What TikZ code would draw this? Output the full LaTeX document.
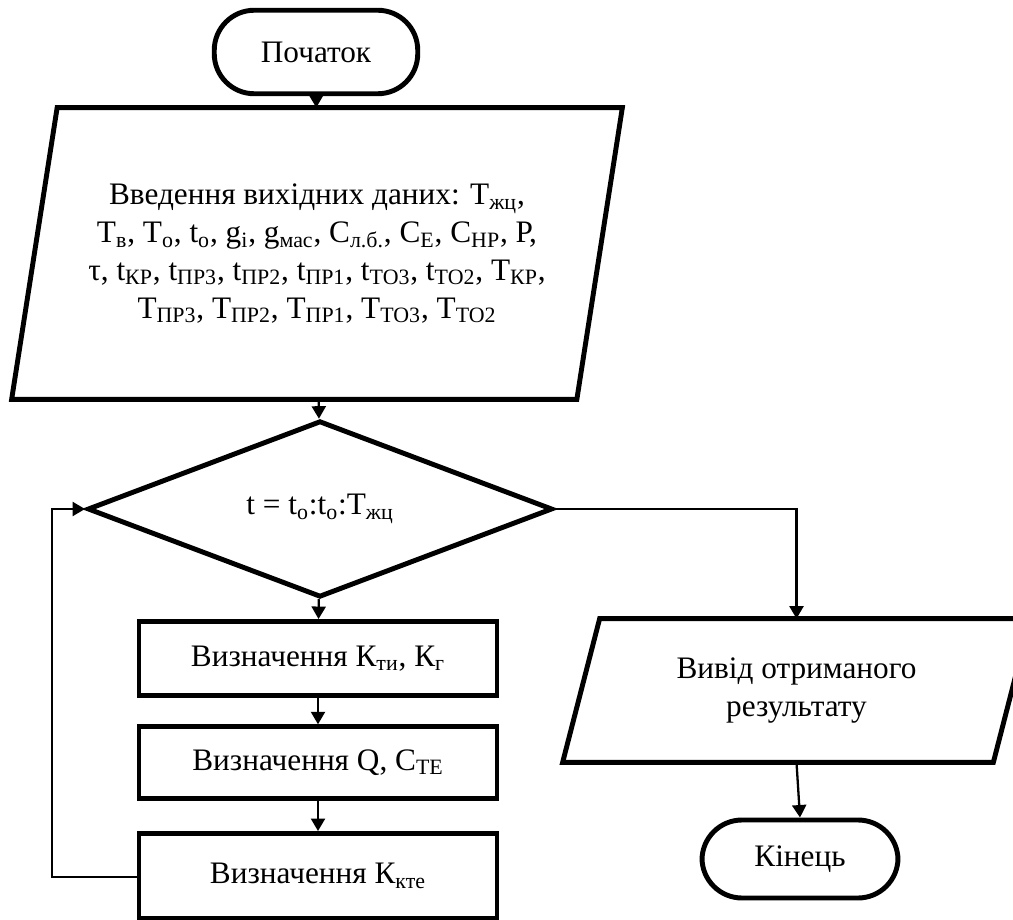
\documentclass[tikz,border=0pt]{standalone}
\usepackage{fontspec}
\setmainfont{Liberation Serif}
\usetikzlibrary{shapes.geometric,arrows.meta}
\newcommand{\sub}[1]{\textsubscript{#1}}
\begin{document}
\begin{tikzpicture}[
  font=\fontsize{17.8}{21.5}\selectfont,
  >={Triangle[length=0.25cm,width=0.28cm]},
  term/.style={draw, line width=2.8pt, rounded corners=0.8cm, minimum width=4.07cm, minimum height=1.67cm},
  proc/.style={draw, line width=2.8pt, minimum width=7.16cm, inner sep=0pt},
  cond/.style={draw, diamond, line width=2.8pt, minimum width=9.3cm, minimum height=3.2cm, inner sep=0pt},
  iobox/.style={inner sep=0pt, align=center},
  frame/.style={line width=2.8pt, line join=miter},
  link/.style={->, line width=1.3pt}
]
\useasboundingbox (0,0) rectangle (20.26,-18.4);
% terminals
\node[term] (start) at (6.32,-1.04) {Початок};
\node[term, minimum width=3.92cm, minimum height=1.56cm] (finish) at (16.0,-17.18) {Кінець};
% input data
\node[iobox, minimum width=11.29cm, minimum height=5.82cm] (input) at (6.34,-5.07)
  {Введення вихідних даних: Т\sub{жц},\\
   Т\sub{в}, Т\sub{о}, t\sub{о}, g\sub{i}, g\sub{мас}, С\sub{л.б.}, С\sub{E}, С\sub{HP}, Р,\\
   τ, t\sub{КР}, t\sub{ПР3}, t\sub{ПР2}, t\sub{ПР1}, t\sub{ТО3}, t\sub{ТО2}, Т\sub{КР},\\
   Т\sub{ПР3}, Т\sub{ПР2}, Т\sub{ПР1}, Т\sub{ТО3}, Т\sub{ТО2}};
\draw[frame] ([xshift=0.455cm]input.north west) -- ([xshift=0.455cm]input.north east)
  -- ([xshift=-0.455cm]input.south east) -- ([xshift=-0.455cm]input.south west) -- cycle;
% loop
\node[cond] (test) at (6.4,-10.18) {t = t\sub{о}:t\sub{о}:Т\sub{жц}};
\node[proc, minimum height=1.48cm] (kti) at (6.36,-13.17) {Визначення К\sub{ти}, К\sub{г}};
\node[proc, minimum height=1.43cm] (cte) at (6.36,-15.25) {Визначення Q, С\sub{ТЕ}};
\node[proc, minimum height=1.7cm] (kkte) at (6.36,-17.52) {Визначення К\sub{кте}};
% output
\node[iobox, minimum width=8.6cm, minimum height=2.86cm] (output) at (15.93,-13.81)
  {Вивід отриманого\\результату};
\draw[frame] ([xshift=0.37cm]output.north west) -- ([xshift=0.37cm]output.north east)
  -- ([xshift=-0.37cm]output.south east) -- ([xshift=-0.37cm]output.south west) -- cycle;
\coordinate (back) at (1.04,-17.54);
% connectors
\draw[link] (start) -- (input);
\draw[link] (input) -- (test);
\draw[link] (test) -- (kti);
\draw[link] (kti) -- (cte);
\draw[link] (cte) -- (kkte);
\draw[link] (kkte.west |- back) -- (back) |- (test.west);
\draw[link] (test.east) -| (output.north);
\draw[link] (output.south) -- (finish.north);
\end{tikzpicture}
\end{document}
